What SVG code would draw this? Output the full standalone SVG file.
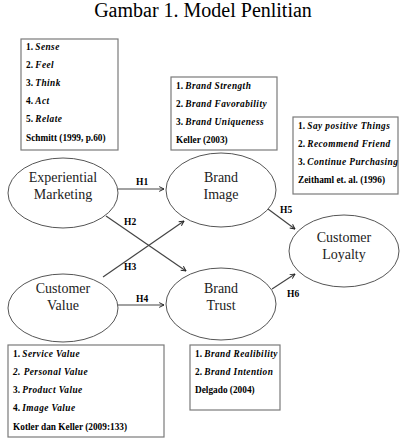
<svg xmlns="http://www.w3.org/2000/svg" width="406" height="442" viewBox="0 0 406 442">
<style>
.title{font-family:"Liberation Serif","Times New Roman",serif;font-size:20px;fill:#000}
.box{fill:#fff;stroke:#7a7a7a;stroke-width:1.2}
.bt{font-family:"Liberation Serif","Times New Roman",serif;font-size:9.3px;font-weight:bold;fill:#000}
.it{font-style:italic;letter-spacing:0.45px}
.node{fill:#fff;stroke:#555;stroke-width:1}
.nt{font-family:"Liberation Serif","Times New Roman",serif;font-size:14px;fill:#222;text-anchor:middle}
.conn{stroke:#444;stroke-width:1.2;fill:none;marker-end:url(#arr)}
.hl{font-family:"Liberation Serif","Times New Roman",serif;font-size:9.5px;font-weight:bold;fill:#000}
</style>
<defs>
<marker id="arr" viewBox="0 0 10 10" refX="9" refY="5" markerWidth="6" markerHeight="6" markerUnits="userSpaceOnUse" orient="auto">
<path d="M1,1 L9,5 L1,9" fill="none" stroke="#222" stroke-width="1.6"/>
</marker>
</defs>
<rect width="406" height="442" fill="#fff"/>
<text class="title" x="203" y="17" text-anchor="middle">Gambar 1. Model Penlitian</text>

<g id="box-em">
<rect class="box" x="21" y="39" width="97" height="111"/>
<text class="bt" x="26" y="50">1. <tspan class="it">Sense</tspan></text>
<text class="bt" x="26" y="68">2. <tspan class="it">Feel</tspan></text>
<text class="bt" x="26" y="86">3. <tspan class="it">Think</tspan></text>
<text class="bt" x="26" y="104">4. <tspan class="it">Act</tspan></text>
<text class="bt" x="26" y="122">5. <tspan class="it">Relate</tspan></text>
<text class="bt" x="26" y="141">Schmitt (1999, p.60)</text>
</g>

<g id="box-bi">
<rect class="box" x="171" y="77" width="106" height="73"/>
<text class="bt" x="176" y="89">1. <tspan class="it">Brand Strength</tspan></text>
<text class="bt" x="176" y="107">2. <tspan class="it">Brand Favorability</tspan></text>
<text class="bt" x="176" y="125">3. <tspan class="it">Brand Uniqueness</tspan></text>
<text class="bt" x="176" y="143">Keller (2003)</text>
</g>

<g id="box-cl">
<rect class="box" x="293" y="117" width="105" height="77"/>
<text class="bt" x="298" y="129">1. <tspan class="it">Say positive Things</tspan></text>
<text class="bt" x="298" y="147">2. <tspan class="it">Recommend Friend</tspan></text>
<text class="bt" x="298" y="165">3. <tspan class="it">Continue Purchasing</tspan></text>
<text class="bt" x="298" y="183">Zeithaml et. al. (1996)</text>
</g>

<g id="box-cv">
<rect class="box" x="8" y="345" width="156" height="92"/>
<text class="bt" x="13" y="357">1. <tspan class="it">Service Value</tspan></text>
<text class="bt" x="13" y="375"><tspan class="it">2. Personal Value</tspan></text>
<text class="bt" x="13" y="393">3. <tspan class="it">Product Value</tspan></text>
<text class="bt" x="13" y="411">4. <tspan class="it">Image Value</tspan></text>
<text class="bt" x="13" y="430">Kotler dan Keller (2009:133)</text>
</g>

<g id="box-bt">
<rect class="box" x="190" y="345" width="90" height="65"/>
<text class="bt" x="195" y="357">1. <tspan class="it">Brand Realibility</tspan></text>
<text class="bt" x="195" y="375">2. <tspan class="it">Brand Intention</tspan></text>
<text class="bt" x="195" y="393">Delgado (2004)</text>
</g>

<g id="connectors">
<line class="conn" x1="118" y1="189" x2="164" y2="189"/>
<line class="conn" x1="106" y1="216" x2="186" y2="271"/>
<line class="conn" x1="103" y1="277" x2="184" y2="221"/>
<line class="conn" x1="118" y1="305" x2="164" y2="305"/>
<line class="conn" x1="268" y1="209" x2="295" y2="229"/>
<line class="conn" x1="272" y1="289" x2="295" y2="274"/>
<text class="hl" x="136" y="185">H1</text>
<text class="hl" x="124" y="225">H2</text>
<text class="hl" x="124" y="270">H3</text>
<text class="hl" x="136" y="302">H4</text>
<text class="hl" x="280" y="213">H5</text>
<text class="hl" x="287" y="297">H6</text>
</g>

<g id="node-em">
<ellipse class="node" cx="63" cy="193" rx="55" ry="35"/>
<text class="nt" x="63" y="182">Experiential</text>
<text class="nt" x="63" y="199">Marketing</text>
</g>
<g id="node-bi">
<ellipse class="node" cx="221" cy="190" rx="55" ry="37"/>
<text class="nt" x="221" y="182">Brand</text>
<text class="nt" x="221" y="199">Image</text>
</g>
<g id="node-cl">
<ellipse class="node" cx="344" cy="251" rx="55" ry="36"/>
<text class="nt" x="344" y="242">Customer</text>
<text class="nt" x="344" y="259">Loyalty</text>
</g>
<g id="node-cv">
<ellipse class="node" cx="63" cy="308" rx="55" ry="34"/>
<text class="nt" x="63" y="293">Customer</text>
<text class="nt" x="63" y="310">Value</text>
</g>
<g id="node-bt">
<ellipse class="node" cx="221" cy="304" rx="55" ry="36"/>
<text class="nt" x="221" y="293">Brand</text>
<text class="nt" x="221" y="310">Trust</text>
</g>
</svg>
